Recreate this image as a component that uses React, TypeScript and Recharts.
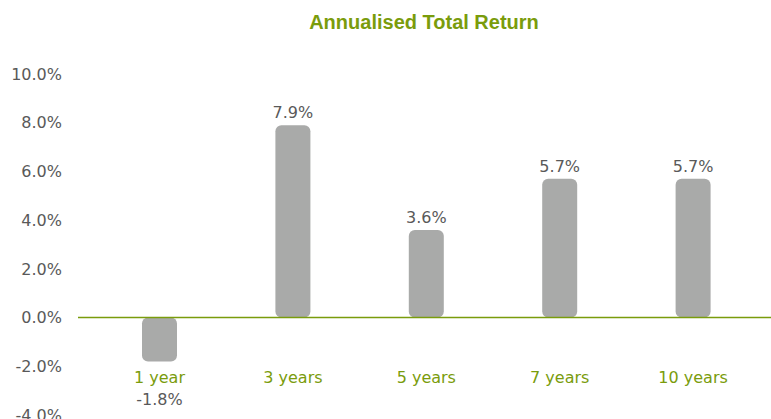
import React from 'react';
import { BarChart, Bar, XAxis, YAxis, ReferenceLine, LabelList } from 'recharts';

const categories = ['1 year', '3 years', '5 years', '7 years', '10 years'];
const returns = [-1.8, 7.9, 3.6, 5.7, 5.7];
const yTicks = [-4, -2, 0, 2, 4, 6, 8, 10];

const data = categories.map((c, i) => ({ name: c, value: returns[i] }));

const GREEN = '#7a9c0c';
const GREY_TEXT = '#595959';
const FONT = '"DejaVu Sans", sans-serif';

const CatLabel = (props: any) => {
  const { x, y, width, height, value, index } = props;
  const cx = x + width / 2;
  const v = returns[index];
  const zero = v >= 0 ? Math.max(y, y + height) : Math.min(y, y + height);
  return (
    <text x={cx} y={zero + 65} textAnchor="middle" fill={GREEN} fontSize={16} fontFamily={FONT}>
      {value}
    </text>
  );
};

const ValueLabel = (props: any) => {
  const { x, y, width, height, value } = props;
  const cx = x + width / 2;
  const top = Math.min(y, y + height);
  const bottom = Math.max(y, y + height);
  const txt = `${Number(value).toFixed(1)}%`;
  if (value >= 0) {
    return (
      <text x={cx} y={top - 7} textAnchor="middle" fill={GREY_TEXT} fontSize={16} fontFamily={FONT}>
        {txt}
      </text>
    );
  }
  return (
    <text x={cx} y={bottom + 44} textAnchor="middle" fill={GREY_TEXT} fontSize={16} fontFamily={FONT}>
      {txt}
    </text>
  );
};

export default function App() {
  return (
    <div style={{ position: 'absolute', left: 0, top: 0, width: 771, height: 419, background: '#fff' }}>
      <div
        style={{
          position: 'absolute',
          left: 0,
          width: 771,
          top: 8,
          textAlign: 'center',
          paddingLeft: 77,
          boxSizing: 'border-box',
          fontFamily: '"Liberation Sans", Arial, sans-serif',
          fontWeight: 'bold',
          fontSize: 20,
          color: GREEN,
          lineHeight: '28px',
        }}
      >
        Annualised Total Return
      </div>
      <BarChart
        width={771}
        height={419}
        data={data}
        margin={{ top: 74, right: 0, bottom: 4, left: 0 }}
        style={{ position: 'absolute', left: 0, top: 0 }}
      >
        <XAxis
          dataKey="name"
          height={0}
          axisLine={false}
          tickLine={false}
          tick={false}
          padding={{ left: 15, right: 11 }}
        />
        <YAxis
          width={78}
          domain={[-4, 10]}
          ticks={yTicks}
          axisLine={false}
          tickLine={false}
          tickMargin={10}
          tickFormatter={(v: number) => `${v.toFixed(1)}%`}
          tick={{ fill: GREY_TEXT, fontSize: 16, fontFamily: FONT }}
          interval={0}
        />
        <ReferenceLine y={0} stroke={GREEN} strokeWidth={1.5} />
        <Bar dataKey="value" fill="#a9aaa9" barSize={35} radius={[6, 6, 6, 6]} isAnimationActive={false}>
          <LabelList dataKey="value" content={<ValueLabel />} />
          <LabelList dataKey="name" content={<CatLabel />} />
        </Bar>
      </BarChart>
    </div>
  );
}
